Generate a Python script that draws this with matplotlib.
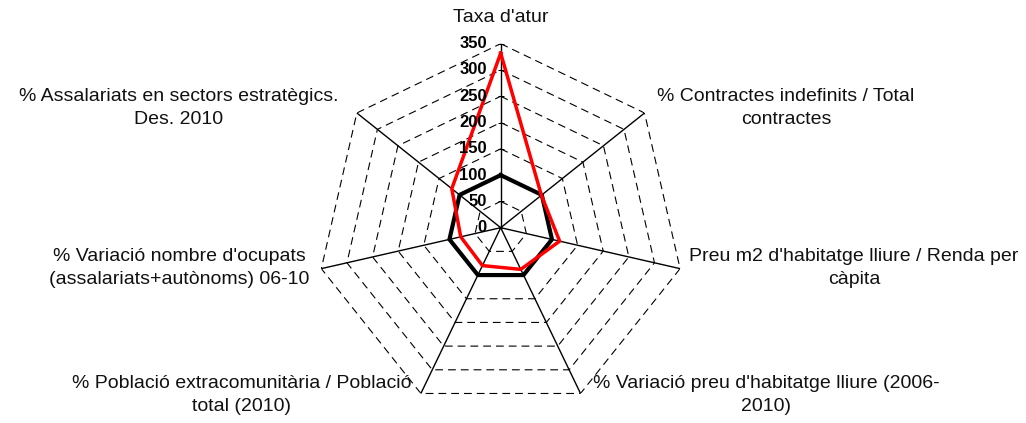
import numpy as np
import matplotlib
matplotlib.use("Agg")
import matplotlib.pyplot as plt

plt.rcParams["font.family"] = ["Liberation Sans", "DejaVu Sans"]

categories = [
    "Taxa d'atur",
    "% Contractes indefinits / Total\ncontractes",
    "Preu m2 d'habitatge lliure / Renda per\ncàpita",
    "% Variació preu d'habitatge lliure (2006-\n2010)",
    "% Població extracomunitària / Població\ntotal (2010)",
    "% Variació nombre d'ocupats\n(assalariats+autònoms) 06-10",
    "% Assalariats en sectors estratègics.\nDes. 2010",
]
reference = [100, 100, 100, 100, 100, 100, 100]
values = [332, 99, 115, 88, 80, 78, 119]
levels = [0, 50, 100, 150, 200, 250, 300, 350]

# label centres in pixels (x, y from top)
label_pos = [(501, 17), (786, 108), (854, 268), (766, 395),
             (242, 395), (179, 268), (179, 108)]

W, H = 1026, 423
fig = plt.figure(figsize=(W / 100, H / 100), dpi=100)
cx, cy, R = 500.7, 227.7, 184
ax = fig.add_axes([(cx - R) / W, (H - cy - R) / H, 2 * R / W, 2 * R / H],
                  projection="polar")
ax.set_theta_zero_location("N")
ax.set_theta_direction(-1)
ax.set_ylim(0, 350)
ax.grid(False)
ax.set_xticks([])
ax.set_yticks([])
ax.spines["polar"].set_visible(False)
ax.patch.set_alpha(0)

n = len(categories)
theta = np.linspace(0, 2 * np.pi, n, endpoint=False)
closed = np.append(theta, theta[0])

# dashed polygon grid
for lv in levels[1:]:
    ax.plot(closed, [lv] * (n + 1), color="black", lw=0.8,
            ls=(0, (7, 4.5)), zorder=1)

# spokes
for t in theta:
    ax.plot([t, t], [0, 350], color="black", lw=1.0, zorder=2)

# tick marks and labels on the first axis
ax.plot([0] * len(levels), levels, marker="_", ms=5, mew=0.7,
        ls="none", color="black", zorder=3)
for lv in levels:
    ax.annotate(str(lv), xy=(0, lv), xytext=(-10, 0), textcoords="offset points",
                ha="right", va="center", fontsize=12, fontweight="bold",
                zorder=6)

ax.plot(closed, reference + reference[:1], color="black", lw=3, zorder=4)
ax.plot(closed, values + values[:1], color="#ff0000", lw=2.5, zorder=5)

for lab, (x, y) in zip(categories, label_pos):
    fig.text(x / W, 1 - y / H, lab, ha="center", va="center", fontsize=14,
             linespacing=1.45, color="#111111")

fig.savefig("out.png", dpi=100)
